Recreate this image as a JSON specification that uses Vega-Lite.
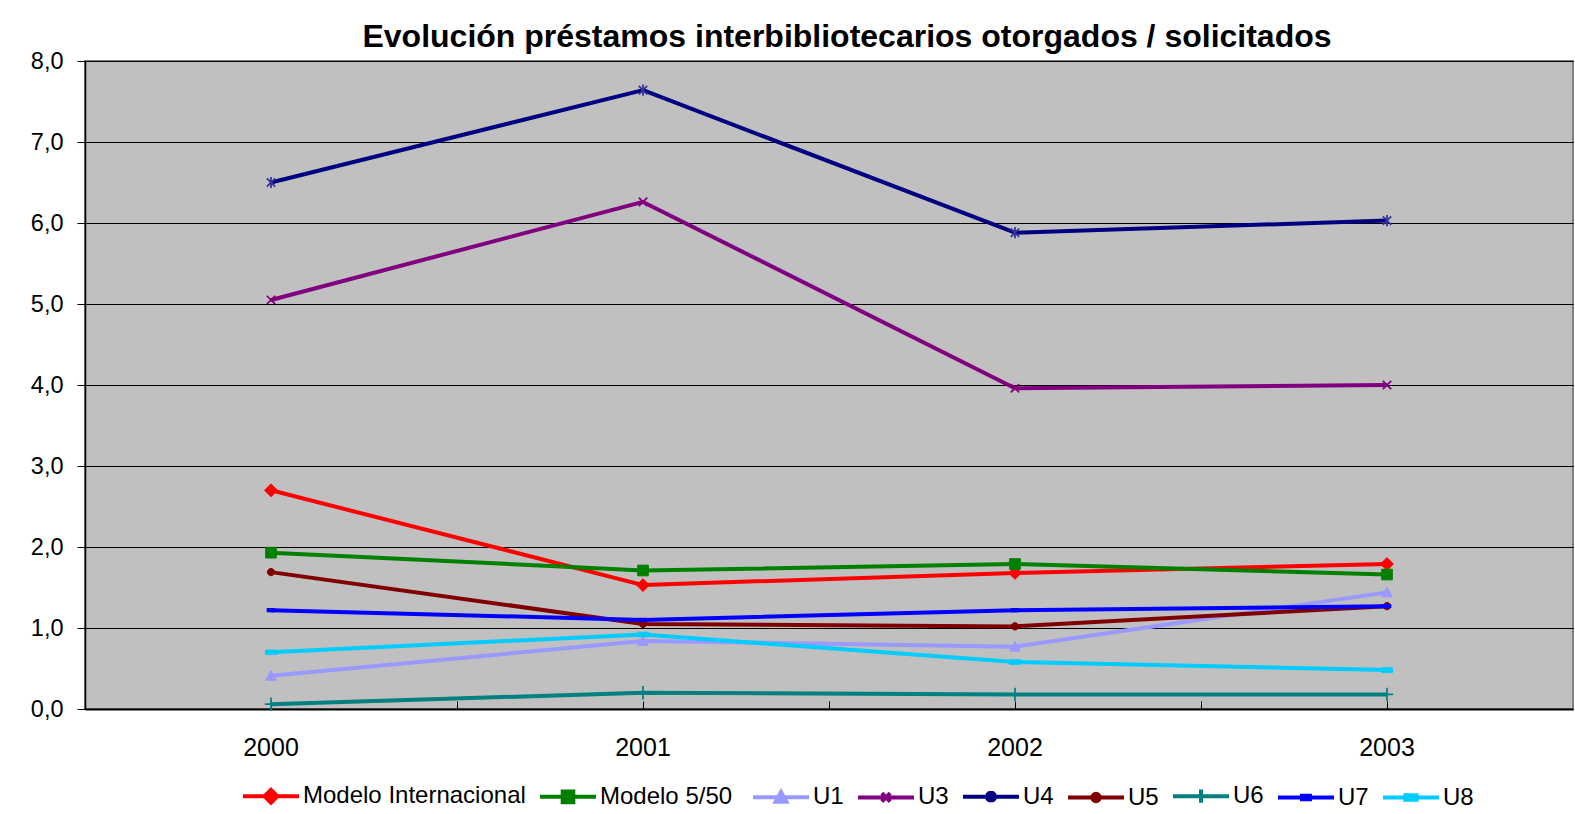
{
  "$schema": "https://vega.github.io/schema/vega-lite/v6.json",
  "width": 1488,
  "height": 648,
  "autosize": {"type": "none"},
  "padding": {"left": 85, "top": 61, "right": 2, "bottom": 105},
  "background": "white",
  "title": {
    "text": "Evolución préstamos interbibliotecarios otorgados / solicitados",
    "font": "Liberation Sans",
    "fontSize": 32,
    "fontWeight": "bold",
    "color": "black",
    "anchor": "middle",
    "dx": 18,
    "dy": 44,
    "offset": 14,
    "baseline": "alphabetic"
  },
  "config": {
    "view": {"fill": "#C0C0C0", "stroke": "#808080", "strokeWidth": 2},
    "font": "Liberation Sans"
  },
  "data": {
    "values": [
      {"year": "2000", "series": "Modelo Internacional", "value": 2.70},
      {"year": "2001", "series": "Modelo Internacional", "value": 1.53},
      {"year": "2002", "series": "Modelo Internacional", "value": 1.68},
      {"year": "2003", "series": "Modelo Internacional", "value": 1.79},
      {"year": "2000", "series": "Modelo  5/50", "value": 1.93},
      {"year": "2001", "series": "Modelo  5/50", "value": 1.71},
      {"year": "2002", "series": "Modelo  5/50", "value": 1.79},
      {"year": "2003", "series": "Modelo  5/50", "value": 1.66},
      {"year": "2000", "series": "U1", "value": 0.41},
      {"year": "2001", "series": "U1", "value": 0.84},
      {"year": "2002", "series": "U1", "value": 0.77},
      {"year": "2003", "series": "U1", "value": 1.44},
      {"year": "2000", "series": "U3", "value": 5.05},
      {"year": "2001", "series": "U3", "value": 6.26},
      {"year": "2002", "series": "U3", "value": 3.96},
      {"year": "2003", "series": "U3", "value": 4.00},
      {"year": "2000", "series": "U4", "value": 6.50},
      {"year": "2001", "series": "U4", "value": 7.64},
      {"year": "2002", "series": "U4", "value": 5.88},
      {"year": "2003", "series": "U4", "value": 6.03},
      {"year": "2000", "series": "U5", "value": 1.69},
      {"year": "2001", "series": "U5", "value": 1.05},
      {"year": "2002", "series": "U5", "value": 1.02},
      {"year": "2003", "series": "U5", "value": 1.27},
      {"year": "2000", "series": "U6", "value": 0.06},
      {"year": "2001", "series": "U6", "value": 0.20},
      {"year": "2002", "series": "U6", "value": 0.18},
      {"year": "2003", "series": "U6", "value": 0.18},
      {"year": "2000", "series": "U7", "value": 1.22},
      {"year": "2001", "series": "U7", "value": 1.10},
      {"year": "2002", "series": "U7", "value": 1.22},
      {"year": "2003", "series": "U7", "value": 1.27},
      {"year": "2000", "series": "U8", "value": 0.70},
      {"year": "2001", "series": "U8", "value": 0.92},
      {"year": "2002", "series": "U8", "value": 0.58},
      {"year": "2003", "series": "U8", "value": 0.48}
    ]
  },
  "encoding": {
    "x": {
      "field": "year",
      "type": "ordinal",
      "bandPosition": 0.5,
      "scale": {"type": "band", "paddingInner": 0, "paddingOuter": 0},
      "axis": null
    },
    "y": {
      "field": "value",
      "type": "quantitative",
      "scale": {"domain": [0, 8], "nice": false, "zero": true},
      "axis": {
        "title": null,
        "values": [0, 1, 2, 3, 4, 5, 6, 7, 8],
        "grid": true,
        "gridColor": "black",
        "gridWidth": 1,
        "gridOpacity": 1,
        "domainColor": "black",
        "domainWidth": 1.5,
        "tickColor": "black",
        "tickSize": 8,
        "tickWidth": 1,
        "labelFontSize": 23.5,
        "labelColor": "black",
        "labelPadding": 14,
        "labelFont": "Liberation Sans",
        "labelExpr": "replace(format(datum.value, '.1f'), '.', ',')"
      }
    }
  },
  "resolve": {"axis": {"x": "independent"}},
  "layer": [
    {
      "mark": {"type": "line", "strokeJoin": "round"},
      "encoding": {
        "x": {
          "field": "year",
          "type": "ordinal",
          "bandPosition": 0.5,
          "scale": {"type": "band", "paddingInner": 0, "paddingOuter": 0},
          "axis": {
            "title": null,
            "orient": "bottom",
            "labelAngle": 0,
            "labelFontSize": 25,
            "labelColor": "black",
            "labelFont": "Liberation Sans",
            "labelPadding": 34,
            "bandPosition": 0.5,
            "tickColor": "black",
            "tickSize": -8,
            "domainColor": "black",
            "domainWidth": 2,
            "grid": false
          }
        },
        "color": {
          "field": "series",
          "type": "nominal",
          "scale": {
            "domain": ["Modelo Internacional", "Modelo  5/50", "U1", "U3", "U4", "U5", "U6", "U7", "U8"],
            "range": ["#FF0000", "#008000", "#9999FF", "#800080", "#000080", "#800000", "#008080", "#0000FF", "#00CCFF"]
          },
          "legend": {
            "title": null,
            "orient": "none",
            "legendX": 156,
            "legendY": 705,
            "direction": "horizontal",
            "columns": 9,
            "symbolSize": 3136,
            "labelFontSize": 24,
            "labelColor": "black",
            "labelFont": "Liberation Sans",
            "labelLimit": 0,
            "labelOffset": 2,
            "columnPadding": 6,
            "encode": {
              "symbols": {
                "update": {
                  "shape": {"signal": "datum.value === 'Modelo Internacional' ? 'M-1,0H1M0,-0.23L0.23,0L0,0.23L-0.23,0Z' : datum.value === 'Modelo  5/50' ? 'M-1,0H1M-0.19,-0.19H0.19V0.19H-0.19Z' : datum.value === 'U1' ? 'M-1,0H1M0,-0.19L0.19,0.16L-0.19,0.16Z' : datum.value === 'U3' ? 'M-1,0H1M-0.15,-0.15L0.15,0.15M-0.15,0.15L0.15,-0.15' : datum.value === 'U4' ? 'M-1,0H1M-0.15,-0.15L0.15,0.15M-0.15,0.15L0.15,-0.15M0,-0.2V0.2' : datum.value === 'U5' ? 'M-1,0H1M0.13,0A0.13,0.13,0,1,1,-0.13,0A0.13,0.13,0,1,1,0.13,0Z' : datum.value === 'U6' ? 'M-1,0H1M0,-0.24V0.24' : datum.value === 'U7' ? 'M-1,0H1M-0.14,-0.06H0.14V0.06H-0.14Z' : 'M-1,0H1M-0.2,-0.08H0.2V0.08H-0.2Z'"},
                  "strokeWidth": {"signal": "(datum.value === 'Modelo Internacional' || datum.value === 'Modelo  5/50') ? 4 : 1.75"},
                  "fill": {"signal": "scale('color', datum.value)"},
                  "stroke": {"signal": "scale('color', datum.value)"},
                  "opacity": {"value": 1}
                }
              }
            }
          }
        },
        "strokeWidth": {
          "field": "series",
          "type": "nominal",
          "scale": {
            "domain": ["Modelo Internacional", "Modelo  5/50", "U1", "U3", "U4", "U5", "U6", "U7", "U8"],
            "range": [4, 4, 1.75, 1.75, 1.75, 1.75, 1.75, 1.75, 2.25]
          },
          "legend": null
        }
      }
    },
    {
      "transform": [{"filter": {"field": "series", "equal": "Modelo Internacional"}}],
      "mark": {"type": "point", "shape": "M0,-0.23L0.23,0L0,0.23L-0.23,0Z", "size": 3136, "filled": true, "fill": "#FF0000", "stroke": "#FF0000", "strokeWidth": 1, "opacity": 1},
      "encoding": {
        "x": {
          "field": "year",
          "type": "ordinal",
          "bandPosition": 0.5,
          "scale": {"type": "band", "paddingInner": 0, "paddingOuter": 0},
          "axis": {
            "title": null,
            "orient": "bottom",
            "labels": false,
            "domain": false,
            "grid": false,
            "bandPosition": 0,
            "tickColor": "black",
            "tickSize": -8
          }
        }
      }
    },
    {
      "transform": [{"filter": {"field": "series", "equal": "Modelo  5/50"}}],
      "mark": {"type": "point", "shape": "M-0.19,-0.19H0.19V0.19H-0.19Z", "size": 3136, "filled": true, "fill": "#008000", "stroke": "#008000", "strokeWidth": 1, "opacity": 1}
    },
    {
      "transform": [{"filter": {"field": "series", "equal": "U1"}}],
      "mark": {"type": "point", "shape": "M0,-0.19L0.19,0.16L-0.19,0.16Z", "size": 3136, "filled": true, "fill": "#9999FF", "stroke": "#9999FF", "strokeWidth": 1, "opacity": 1}
    },
    {
      "transform": [{"filter": {"field": "series", "equal": "U3"}}],
      "mark": {"type": "point", "shape": "M-0.15,-0.15L0.15,0.15M-0.15,0.15L0.15,-0.15", "size": 3136, "filled": true, "fill": "#800080", "stroke": "#800080", "strokeWidth": 1.75, "opacity": 1}
    },
    {
      "transform": [{"filter": {"field": "series", "equal": "U4"}}],
      "mark": {"type": "point", "shape": "M-0.15,-0.15L0.15,0.15M-0.15,0.15L0.15,-0.15M0,-0.2V0.2", "size": 3136, "filled": true, "fill": "#333399", "stroke": "#333399", "strokeWidth": 1.75, "opacity": 1}
    },
    {
      "transform": [{"filter": {"field": "series", "equal": "U5"}}],
      "mark": {"type": "point", "shape": "M0.13,0A0.13,0.13,0,1,1,-0.13,0A0.13,0.13,0,1,1,0.13,0Z", "size": 3136, "filled": true, "fill": "#800000", "stroke": "#800000", "strokeWidth": 1, "opacity": 1}
    },
    {
      "transform": [{"filter": {"field": "series", "equal": "U6"}}],
      "mark": {"type": "point", "shape": "M-0.22,0H0.22M0,-0.24V0.24", "size": 3136, "filled": true, "fill": "#008080", "stroke": "#008080", "strokeWidth": 1.75, "opacity": 1}
    },
    {
      "transform": [{"filter": {"field": "series", "equal": "U7"}}],
      "mark": {"type": "point", "shape": "M-0.14,-0.06H0.14V0.06H-0.14Z", "size": 3136, "filled": true, "fill": "#0000FF", "stroke": "#0000FF", "strokeWidth": 1, "opacity": 1}
    },
    {
      "transform": [{"filter": {"field": "series", "equal": "U8"}}],
      "mark": {"type": "point", "shape": "M-0.2,-0.08H0.2V0.08H-0.2Z", "size": 3136, "filled": true, "fill": "#00CCFF", "stroke": "#00CCFF", "strokeWidth": 1, "opacity": 1}
    }
  ]
}
